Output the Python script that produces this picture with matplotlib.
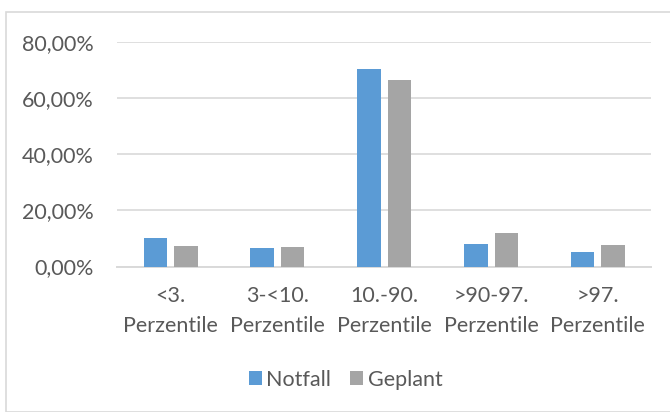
import matplotlib
matplotlib.use("Agg")
import matplotlib.pyplot as plt
import numpy as np
from matplotlib.patches import Rectangle
from matplotlib.ticker import FuncFormatter

# Anteile je Perzentilgruppe
kategorien = ["<3.\nPerzentile", "3-<10.\nPerzentile", "10.-90.\nPerzentile",
              ">90-97.\nPerzentile", ">97.\nPerzentile"]
notfall = [0.103, 0.065, 0.703, 0.079, 0.052]
geplant = [0.073, 0.070, 0.663, 0.119, 0.075]

plt.rcParams['font.family'] = ['Lato', 'DejaVu Sans']
textfarbe = '#595959'
gr = 15.5

fig = plt.figure(figsize=(6.7, 4.12), dpi=100)
ax = fig.add_axes([0.175, 0.353, 0.797, 0.546])

# Rahmen um das Diagramm
fig.patches.append(Rectangle((6 / 670, 0), 1, 1 - 12 / 412, transform=fig.transFigure,
                             fill=False, edgecolor='#D9D9D9', linewidth=1.2))

x = np.arange(len(kategorien))
b = 0.22
ax.bar(x - 0.143, notfall, b, color='#5B9BD5', label='Notfall', zorder=3)
ax.bar(x + 0.143, geplant, b, color='#A5A5A5', label='Geplant', zorder=3)

ax.set_xlim(-0.5, 4.5)
ax.set_ylim(0, 0.8)
ax.set_yticks([0, 0.2, 0.4, 0.6, 0.8])
ax.yaxis.set_major_formatter(FuncFormatter(lambda v, p: f"{v*100:.2f}%".replace('.', ',')))
ax.set_xticks(x)
ax.set_xticklabels(kategorien, linespacing=1.6)

ax.grid(axis='y', color='#D9D9D9', linewidth=1.2, zorder=0)
for s in ['top', 'right', 'left']:
    ax.spines[s].set_visible(False)
ax.spines['bottom'].set_color('#D9D9D9')
ax.spines['bottom'].set_linewidth(1.4)
ax.tick_params(axis='both', length=0, labelsize=gr, colors=textfarbe)
ax.tick_params(axis='x', pad=14)
ax.tick_params(axis='y', pad=17)

fig.legend(loc='center', bbox_to_anchor=(0.516, 0.078), ncol=2, frameon=False,
           fontsize=gr, handlelength=0.6, handleheight=0.6, handletextpad=0.2,
           columnspacing=0.9, labelcolor=textfarbe)

fig.savefig('out.png', dpi=100)
